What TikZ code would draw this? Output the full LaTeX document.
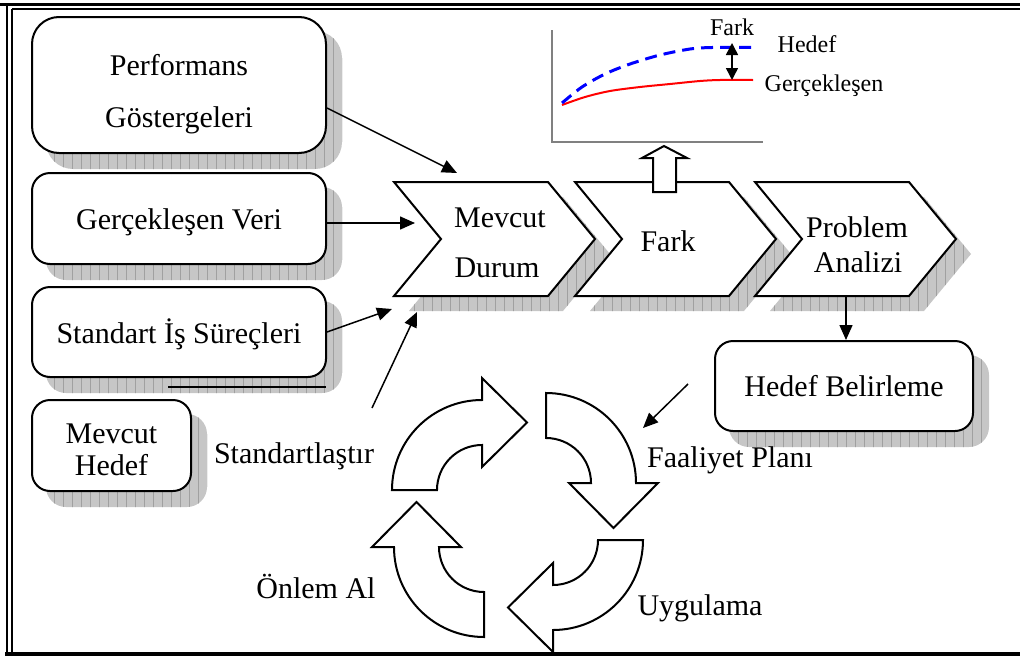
\documentclass[tikz,border=0pt]{standalone}
\usepackage{fontspec}
\setmainfont{Liberation Serif}
\usetikzlibrary{arrows.meta,calc}
\pgfdeclarelayer{shadowlayer}
\pgfsetlayers{shadowlayer,main}
\definecolor{shadowgray}{HTML}{C6C6C6}
\definecolor{gridgray}{HTML}{A0A0A0}
\definecolor{axisgray}{HTML}{808080}

% hatched drop shadow clipped to the given path
\newcommand\dropshadow[1]{%
  \begin{scope}
    \clip #1;
    \fill[shadowgray] (0,0) rectangle (1020,656);
    \draw[gridgray, line width=0.6pt, step=9] (0,0) grid (1020,656);
  \end{scope}}

% curved block arrow of the improvement cycle: centre (#1,#2), base angle #3
\newcommand\cyclearrow[3]{%
  \draw[blockarrow] ($(#1,#2)+(#3:90)$) arc[start angle=#3, end angle=#3+90, radius=90]
    -- ($(#1,#2)+(#3+90:112)$) -- ($(#1,#2)+(#3+90:67.5)+(#3+180:45)$)
    -- ($(#1,#2)+(#3+90:23)$) -- ($(#1,#2)+(#3+90:45)$)
    arc[start angle=#3+90, end angle=#3, radius=45] -- cycle;}

\tikzset{
  rbox/.style={draw, line width=2pt, fill=white, rounded corners=#1, inner sep=0pt},
  rbox/.default=18pt,
  lbl/.style={font=\fontsize{30}{36}\selectfont, anchor=base, inner sep=0pt},
  small/.style={font=\fontsize{24}{28}\selectfont, anchor=base, inner sep=0pt},
  conn/.style={line width=1.5pt, -{Triangle[length=15pt,width=13pt]}},
  blockarrow/.style={draw, line width=2pt, fill=white, line join=miter},
  chevshape/.style={draw, line width=2pt, fill=white, line join=miter},
}

\begin{document}
\begin{tikzpicture}[x=1pt,y=-1pt]
\useasboundingbox (0,0) rectangle (1020,656);

% page frame
\draw[line width=2.5pt] (0,4.7) -- (1020,4.7);
\draw[line width=2.5pt] (7,4.7) -- (7,654);
\draw[line width=1.5pt] (11.8,9) -- (1020,9);
\draw[line width=1.5pt] (11.8,9) -- (11.8,654);
\draw[line width=3.5pt] (5,654) -- (1020,654);

% input boxes
\node[rbox=27pt, minimum width=294pt, minimum height=136pt] (perf) at (179,85) {};
\node[rbox, minimum width=294pt, minimum height=91pt] (gv) at (179,218.5) {};
\node[rbox, minimum width=294pt, minimum height=90pt] (sis) at (179,332) {};
\node[rbox, minimum width=159pt, minimum height=91pt] (mh) at (111.5,445.5) {};
\node[rbox, minimum width=258pt, minimum height=90pt] (hb) at (844,386) {};

\begin{pgfonlayer}{shadowlayer}
  \dropshadow{[rounded corners=27pt] ($(perf.north west)+(15,15)$) rectangle ($(perf.south east)+(15,15)$)}
  \foreach \b in {gv,sis,mh,hb}{%
    \dropshadow{[rounded corners=20pt] ($(\b.north west)+(15,15)$) rectangle ($(\b.south east)+(15,15)$)}}
  \foreach \x in {394,575,755}{%
    \dropshadow{[shift={(\x+15,197)}] (0,0) -- (154,0) -- (201,57) -- (154,114) -- (0,114) -- (47,57) -- cycle}}
\end{pgfonlayer}
\draw[line width=2pt] (168,387) -- (326,387);

% process chevrons
\foreach \x in {394,575,755}{%
  \draw[chevshape, shift={(\x,182)}] (0,0) -- (154,0) -- (201,57) -- (154,114) -- (0,114) -- (47,57) -- cycle;}

% block arrow up to the chart
\draw[blockarrow] (653,192) -- (676,192) -- (676,158) -- (687,158) -- (664,146) -- (642,158) -- (653,158) -- cycle;

% gap chart
\draw[axisgray, line width=1.5pt] (552,30) -- (552,142) -- (763,142);
\draw[red, line width=2pt] plot[smooth] coordinates {(562,105) (585,97) (610,91) (640,87) (670,84) (700,81) (720,80) (753,80)};
\draw[blue, line width=3pt, dash pattern=on 12pt off 7pt] plot[smooth] coordinates {(562,103) (582,87) (605,74) (630,64) (660,55) (690,49) (712,47.5) (753,47.5)};
\coordinate (gaptop) at (732,43);
\coordinate (gapbot) at (732,80);
\draw[line width=1.5pt, {Triangle[length=12pt,width=12pt]}-{Triangle[length=12pt,width=12pt]}] (gaptop) -- (gapbot);
\node[small] (cfark) at (732,35) {Fark};
\node[small] (chedef) at (807,52) {Hedef};
\node[small] (cgercek) at (824,91) {Gerçekleşen};

% improvement cycle
\cyclearrow{482}{490}{180}
\cyclearrow{546}{483}{270}
\cyclearrow{553}{540}{0}
\cyclearrow{484}{547}{90}

% box texts
\node[lbl] (tperf1) at (179,75) {Performans};
\node[lbl] (tperf2) at (179,127) {Göstergeleri};
\node[lbl] (tgv) at (179,229.5) {Gerçekleşen Veri};
\node[lbl] (tsis) at (179,343) {Standart İş Süreçleri};
\node[lbl] (tmh1) at (111.5,443) {Mevcut};
\node[lbl] (tmh2) at (111.5,475) {Hedef};
\node[lbl] (thb) at (844,396) {Hedef Belirleme};

% chevron texts
\node[lbl] (tmd1) at (500,227) {Mevcut};
\node[lbl] (tmd2) at (497,277) {Durum};
\node[lbl] (tfark) at (668,251) {Fark};
\node[lbl] (tpa1) at (857,237) {Problem};
\node[lbl] (tpa2) at (858,272) {Analizi};

% cycle labels
\node[lbl] (tstd) at (294,463) {Standartlaştır};
\node[lbl] (tfp) at (730,467) {Faaliyet Planı};
\node[lbl] (tuyg) at (700,615) {Uygulama};
\node[lbl] (tonl) at (316,598) {Önlem Al};

% connectors
\coordinate (mdtop) at (457,173);
\coordinate (mdleft) at (415,223);
\coordinate (mdlow) at (392,309);
\coordinate (stdtail) at (372,408);
\coordinate (mdbottom) at (417,312);
\coordinate (pabottom) at (846,297);
\coordinate (fptail) at (688,384);
\coordinate (fphead) at (643,428);
\draw[conn] ([yshift=-23pt]perf.east) -- (mdtop);
\draw[conn] (gv.east |- mdleft) -- (mdleft);
\draw[conn] (sis.east) -- (mdlow);
\draw[conn] (stdtail) -- (mdbottom);
\draw[conn] (pabottom) -- (pabottom |- hb.north);
\draw[conn] (fptail) -- (fphead);
\end{tikzpicture}
\end{document}
